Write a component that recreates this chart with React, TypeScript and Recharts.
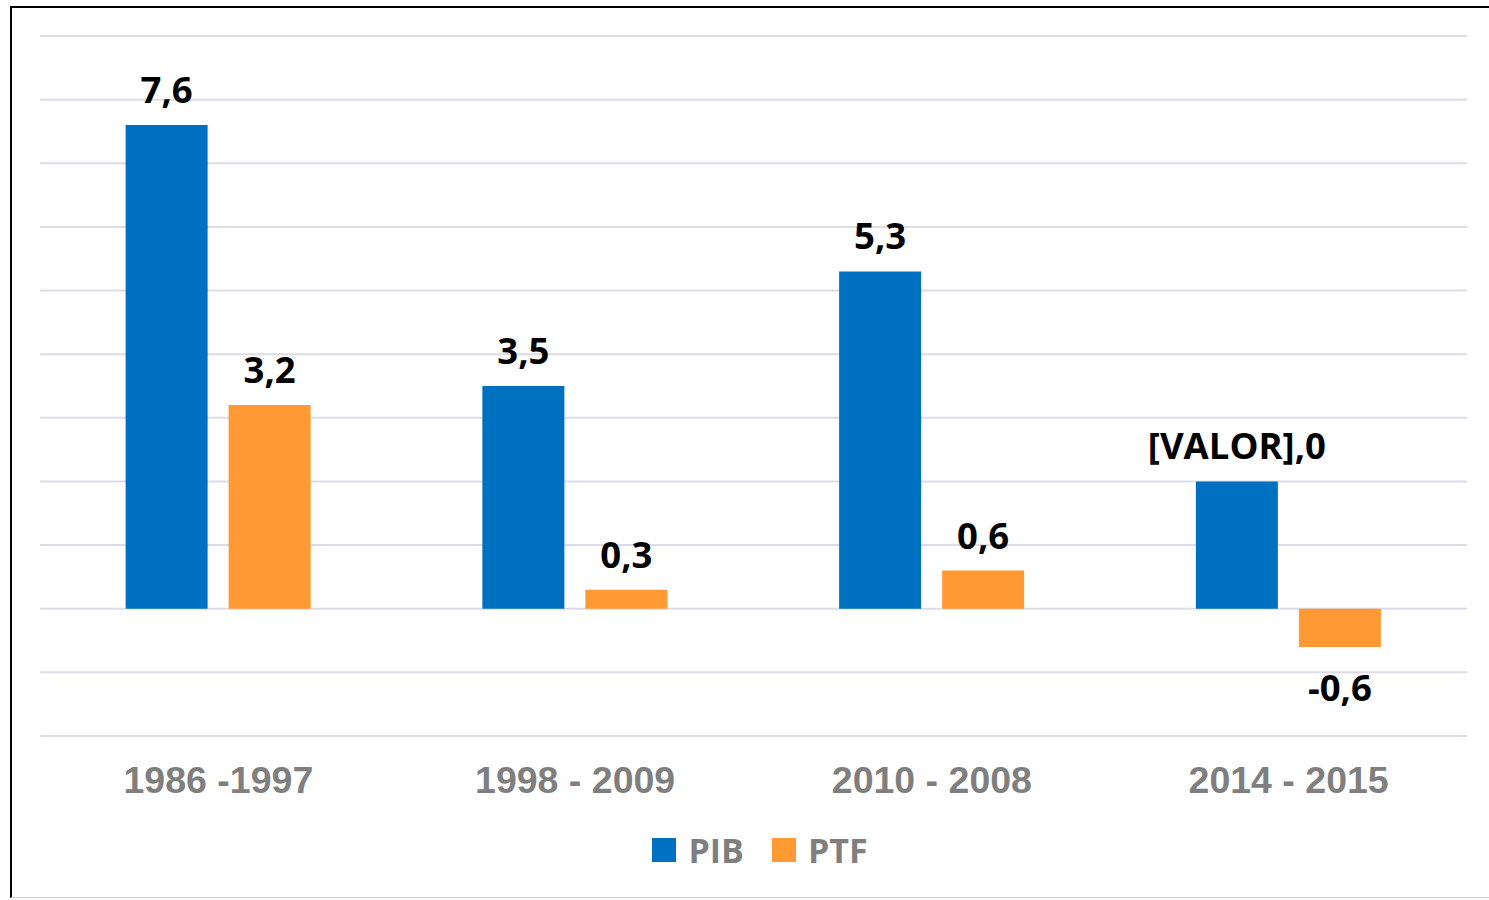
import { BarChart, Bar, XAxis, YAxis, CartesianGrid, Legend, LabelList } from 'recharts'

const periods = ['1986 -1997', '1998 - 2009', '2010 - 2008', '2014 - 2015']
const pib = [7.6, 3.5, 5.3, 2.0]
const ptf = [3.2, 0.3, 0.6, -0.6]
const pibLabels = ['7,6', '3,5', '5,3', '[VALOR],0']
const ptfLabels = ['3,2', '0,3', '0,6', '-0,6']
const yTicks = [-2, -1, 0, 1, 2, 3, 4, 5, 6, 7, 8, 9]

const data = periods.map((period, i) => ({ period, PIB: pib[i], PTF: ptf[i] }))

const BLUE = '#0070C0'
const ORANGE = '#FF9933'
const GRAY = '#7F7F7F'

const makeLabel = (labels: string[], values: number[]) => (props: any) => {
  const { x, y, width, height, index } = props
  const top = Math.min(y, y + height)
  const bottom = Math.max(y, y + height)
  const negative = values[index] < 0
  return (
    <text
      x={x + width / 2}
      y={negative ? bottom + 54 : top - 22}
      textAnchor="middle"
      fill="#000"
      fontFamily="'Open Sans', sans-serif"
      fontWeight={700}
      fontSize={36.5}
    >
      {labels[index]}
    </text>
  )
}

const PeriodTick = ({ x, y, payload }: any) => (
  <text
    x={x}
    y={y + 57}
    textAnchor="middle"
    fill={GRAY}
    fontFamily="'Liberation Sans', Arial, sans-serif"
    fontWeight={700}
    fontSize={37.5}
  >
    {payload.value}
  </text>
)

const LegendContent = () => (
  <div style={{ display: 'flex', justifyContent: 'center', alignItems: 'center' }}>
    {[
      { name: 'PIB', color: BLUE },
      { name: 'PTF', color: ORANGE },
    ].map((item) => (
      <div key={item.name} style={{ display: 'flex', alignItems: 'center', margin: '0 14px' }}>
        <span style={{ width: 24, height: 24, background: item.color, display: 'inline-block', marginRight: 12 }} />
        <span style={{ fontFamily: "'Open Sans', sans-serif", fontWeight: 700, fontSize: 34, color: GRAY }}>{item.name}</span>
      </div>
    ))}
  </div>
)

export default function App() {
  return (
    <div style={{ position: 'absolute', left: 0, top: 0, width: 1489, height: 900, background: '#fff', overflow: 'hidden' }}>
      <div
        style={{
          position: 'absolute',
          left: 10,
          top: 6,
          width: 1500,
          height: 892,
          border: '2px solid #000',
          borderBottom: '1px solid #ccc',
          boxSizing: 'border-box',
        }}
      />
      <div style={{ position: 'absolute', left: 0, top: 0 }}>
        <BarChart
          width={1489}
          height={900}
          data={data}
          margin={{ top: 36, right: 22, left: 40, bottom: 104 }}
          barCategoryGap="24%"
          barGap={21}
        >
          <CartesianGrid vertical={false} stroke="#DCDCE8" strokeWidth={2} />
          <XAxis
            dataKey="period"
            axisLine={false}
            tickLine={false}
            tickSize={0}
            tickMargin={0}
            height={60}
            tick={<PeriodTick />}
          />
          <YAxis hide domain={[-2, 9]} ticks={yTicks} type="number" allowDataOverflow />
          <Legend
            verticalAlign="middle"
            align="center"
            layout="horizontal"
            content={<LegendContent />}
            wrapperStyle={{ top: 827, left: 0, width: 1520 }}
          />
          <Bar dataKey="PIB" fill={BLUE} isAnimationActive={false}>
            <LabelList dataKey="PIB" content={makeLabel(pibLabels, pib)} />
          </Bar>
          <Bar dataKey="PTF" fill={ORANGE} isAnimationActive={false}>
            <LabelList dataKey="PTF" content={makeLabel(ptfLabels, ptf)} />
          </Bar>
        </BarChart>
      </div>
    </div>
  )
}
